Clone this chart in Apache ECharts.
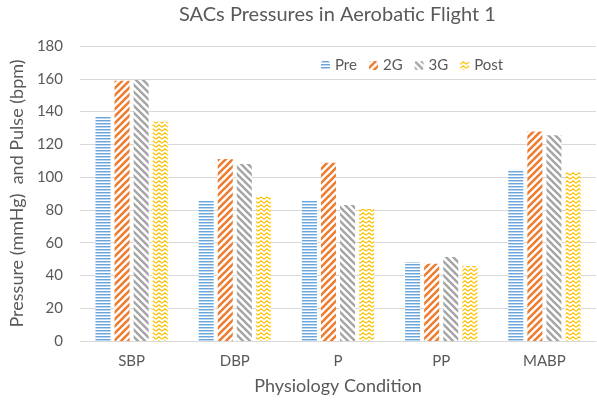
<!DOCTYPE html>
<html>
<head>
<meta charset="utf-8">
<script src="https://cdn.jsdelivr.net/npm/echarts@6/dist/echarts.min.js"></script>
<style>
  html, body { margin: 0; padding: 0; background: #fff; }
  #chartmain { width: 597px; height: 402px; }
</style>
</head>
<body>
<div id="chartmain"></div>
<script>
// 数据
var categories = ['SBP', 'DBP', 'P', 'PP', 'MABP'];
var seriesNames = ['Pre', '2G', '3G', 'Post'];
var preData = [136.7, 85.5, 85.5, 48.2, 104.5];
var g2Data = [158.8, 111, 108.8, 47.2, 127.8];
var g3Data = [159.3, 108, 83, 51.2, 125.5];
var postData = [133.8, 88, 80.5, 45.8, 103];
var yTicks = [0, 20, 40, 60, 80, 100, 120, 140, 160, 180];

// 图案
function makeCanvas(w, h) {
  var c = document.createElement('canvas');
  c.width = w; c.height = h;
  var ctx = c.getContext('2d');
  ctx.fillStyle = '#ffffff';
  ctx.fillRect(0, 0, w, h);
  return c;
}
// 横线 (Pre)
function patHorizontal() {
  var c = makeCanvas(4, 3);
  var ctx = c.getContext('2d');
  ctx.fillStyle = '#6AA5DC';
  ctx.fillRect(0, 0, 4, 1);
  ctx.fillStyle = '#BCD6EF';
  ctx.fillRect(0, 1, 4, 1);
  return c;
}
// 斜线
function patDiag(color, width, flip) {
  var s = 7;
  var c = makeCanvas(s, s);
  var ctx = c.getContext('2d');
  ctx.strokeStyle = color;
  ctx.lineWidth = width;
  if (flip) {
    ctx.translate(s, 0);
    ctx.scale(-1, 1);
  }
  for (var k = -1; k <= 1; k++) {
    ctx.beginPath();
    ctx.moveTo(k * s - 1, s + 1);
    ctx.lineTo(k * s + s + 1, -1);
    ctx.stroke();
  }
  return c;
}
// 波浪 (Post)
function patZigzag() {
  var c = makeCanvas(6, 4);
  var ctx = c.getContext('2d');
  ctx.strokeStyle = '#FFC000';
  ctx.lineWidth = 1.2;
  ctx.beginPath();
  ctx.moveTo(0, 3.2);
  ctx.lineTo(3, 0.8);
  ctx.lineTo(6, 3.2);
  ctx.stroke();
  return c;
}

var patterns = [
  { image: patHorizontal(), repeat: 'repeat' },
  { image: patDiag('#ED7D31', 2.6, false), repeat: 'repeat' },
  { image: patDiag('#A5A5A5', 2.4, true), repeat: 'repeat' },
  { image: patZigzag(), repeat: 'repeat' }
];
var allData = [preData, g2Data, g3Data, postData];

var series = [];
for (var i = 0; i < seriesNames.length; i++) {
  series.push({
    name: seriesNames[i],
    type: 'bar',
    data: allData[i],
    barGap: '27%',
    barCategoryGap: '30%',
    itemStyle: { color: patterns[i] }
  });
}

var fontFam = 'Lato, "Open Sans", sans-serif';
var option = {
  animation: false,
  backgroundColor: '#ffffff',
  textStyle: { fontFamily: fontFam },
  title: {
    text: 'SACs Pressures in Aerobatic Flight 1',
    left: 174,
    top: 0,
    textStyle: { fontSize: 20, fontWeight: 'normal', color: '#595959', fontFamily: fontFam }
  },
  legend: {
    data: seriesNames,
    left: 316,
    top: 53,
    itemWidth: 9,
    itemHeight: 9,
    itemGap: 12,
    textStyle: { fontSize: 15, color: '#595959', fontFamily: fontFam }
  },
  grid: { left: 79, right: 1, top: 46, bottom: 61 },
  xAxis: {
    type: 'category',
    data: categories,
    name: 'Physiology Condition',
    nameLocation: 'middle',
    nameGap: 36,
    nameTextStyle: { fontSize: 18, color: '#595959' },
    axisLine: { lineStyle: { color: '#D9D9D9' } },
    axisTick: { show: false },
    axisLabel: { fontSize: 15, color: '#595959', margin: 13 }
  },
  yAxis: {
    type: 'value',
    min: yTicks[0],
    max: yTicks[yTicks.length - 1],
    interval: 20,
    name: 'Pressure (mmHg)  and Pulse (bpm)',
    nameLocation: 'middle',
    nameGap: 46,
    nameTextStyle: { fontSize: 18, color: '#595959' },
    axisLine: { show: false },
    axisTick: { show: false },
    axisLabel: { fontSize: 15, color: '#595959', margin: 17 },
    splitLine: { lineStyle: { color: '#D9D9D9', width: 1 } }
  },
  series: series
};

var myChart = echarts.init(document.getElementById('chartmain'));
myChart.setOption(option);
</script>
</body>
</html>
